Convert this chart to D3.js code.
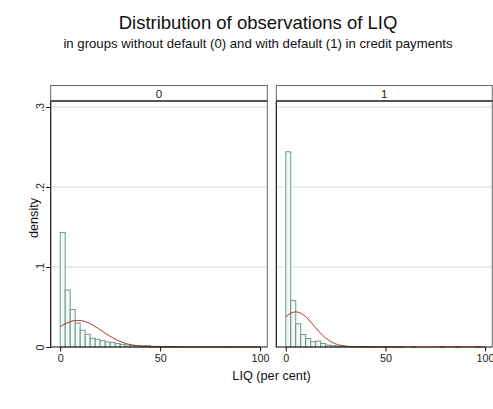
<!DOCTYPE html>
<html>
<head>
<meta charset="utf-8">
<script src="https://cdn.jsdelivr.net/npm/d3@7"></script>
<style>
  html, body { margin: 0; padding: 0; background: #fff; }
  svg { display: block; font-family: "Liberation Sans", Arial, sans-serif; }
</style>
</head>
<body>
<svg id="chart" width="493" height="409"></svg>
<script>
// Histogram bins: 2.5-point wide bins of LIQ from 0 to 100
const binWidth = 2.5;
const binStarts = d3.range(0, 100, binWidth);

// Groups (facet labels)
const groups = ["0", "1"];

// Density per bin, group 0 (no default)
const density0 = [
  0.1433, 0.0713, 0.047, 0.030, 0.021, 0.016, 0.011, 0.0096, 0.0079, 0.0063,
  0.0058, 0.0042, 0.0033, 0.0025, 0.002, 0.0017, 0.0015, 0.002, 0.0008, 0.0008,
  0.0006, 0.0006, 0.0005, 0.0005, 0.0003, 0.0002, 0.0002, 0.0002, 0.0002, 0.0002,
  0.0002, 0.0002, 0.0002, 0.0002, 0.0002, 0.0002, 0.0002, 0.0002, 0.0002, 0.0002
];

// Density per bin, group 1 (default)
const density1 = [
  0.244, 0.0583, 0.029, 0.0156, 0.0106, 0.0066, 0.0073, 0.0044, 0.0024, 0.0017,
  0.0012, 0.0012, 0.0008, 0.0006, 0.0006, 0.0005, 0.0005, 0.0004, 0.0004, 0.0004,
  0.0004, 0.0004, 0.0003, 0.0003, 0, 0.0003, 0, 0, 0, 0,
  0, 0.0003, 0, 0, 0.0003, 0, 0, 0, 0.0003, 0
];

// Normal-density overlay parameters (mean, sd) per group
const normalMean = [8.8, 5.0];
const normalSd = [12.0, 9.1];

// Axis ticks
const xTicks = [0, 50, 100];
const yTicks = [0, 0.1, 0.2, 0.3];
const yTickLabels = ["0", ".1", ".2", ".3"];

const densities = [density0, density1];

const svg = d3.select("#chart");
const font = "'Liberation Sans', Arial, sans-serif";

// Titles
svg.append("text").attr("x", 258).attr("y", 29).attr("text-anchor", "middle")
  .style("font-size", "18.5px").attr("fill", "#111")
  .text("Distribution of observations of LIQ");
svg.append("text").attr("x", 258).attr("y", 48).attr("text-anchor", "middle")
  .style("font-size", "13.2px").attr("fill", "#111")
  .text("in groups without default (0) and with default (1) in credit payments");

// Panel geometry
const panels = [
  { left: 50.7, right: 267.3 },
  { left: 276.3, right: 492.3 }
];
const stripTop = 85.5, plotTop = 101, plotBottom = 347;

const y = d3.scaleLinear().domain([0, 0.3]).range([plotBottom, 107]);

panels.forEach((p, gi) => {
  const x = d3.scaleLinear().domain([0, 100]).range([p.left + 9.5, p.right - 7.2]);
  const g = svg.append("g");

  // Gridlines
  g.selectAll("line.grid").data(yTicks.filter(t => t > 0)).join("line")
    .attr("x1", p.left).attr("x2", p.right)
    .attr("y1", d => y(d)).attr("y2", d => y(d))
    .attr("stroke", "#dadada").attr("stroke-width", 1);

  // Histogram bars
  const bins = binStarts.map((s, i) => ({ x0: s, x1: s + binWidth, v: densities[gi][i] }));
  g.selectAll("rect.bar").data(bins.filter(b => b.v > 0)).join("rect")
    .attr("x", d => x(d.x0)).attr("width", d => x(d.x1) - x(d.x0))
    .attr("y", d => y(d.v)).attr("height", d => y(0) - y(d.v))
    .attr("fill", "#f3f7f5").attr("stroke", "#54866f").attr("stroke-width", 0.9)
    .attr("stroke-opacity", 0.9);

  // Normal density curve
  const mu = normalMean[gi], sd = normalSd[gi];
  const pts = d3.range(0, 100.01, 0.5).map(v => [v, Math.exp(-0.5 * ((v - mu) / sd) ** 2) / (sd * Math.sqrt(2 * Math.PI))]);
  g.append("path").datum(pts)
    .attr("d", d3.line().x(d => x(d[0])).y(d => y(d[1])))
    .attr("fill", "none").attr("stroke", "#a8211f").attr("stroke-width", 1);

  // Right border of plot region
  g.append("line").attr("x1", p.right).attr("x2", p.right)
    .attr("y1", plotTop).attr("y2", plotBottom)
    .attr("stroke", "#666").attr("stroke-width", 1);

  // Left axis line
  g.append("line").attr("x1", p.left).attr("x2", p.left)
    .attr("y1", plotTop).attr("y2", plotBottom + 0.5)
    .attr("stroke", "#111").attr("stroke-width", 1.2);

  // X axis
  const xAxis = d3.axisBottom(x).tickValues(xTicks).tickSize(4.5).tickPadding(3).tickSizeOuter(0);
  const ax = g.append("g").attr("transform", `translate(0,${plotBottom})`).call(xAxis);
  ax.select(".domain").attr("d", `M${p.left},0H${p.right}`).attr("stroke", "#111").attr("stroke-width", 1.2);
  ax.selectAll(".tick line").attr("stroke", "#111");
  ax.selectAll(".tick text").style("font-family", font).style("font-size", "10.8px").attr("fill", "#222");

  // Strip with group label
  g.append("rect").attr("x", p.left).attr("y", stripTop)
    .attr("width", p.right - p.left).attr("height", plotTop - stripTop)
    .attr("fill", "#fff").attr("stroke", "#666").attr("stroke-width", 1);
  g.append("line").attr("x1", p.left).attr("x2", p.right)
    .attr("y1", plotTop).attr("y2", plotTop)
    .attr("stroke", "#333").attr("stroke-width", 1.3);
  g.append("text").attr("x", (p.left + p.right) / 2).attr("y", 97.5)
    .attr("text-anchor", "middle").style("font-size", "11.5px").attr("fill", "#222")
    .text(groups[gi]);

  // Y axis (left panel only)
  if (gi === 0) {
    const yAxis = d3.axisLeft(y).tickValues(yTicks).tickSize(4.5).tickFormat((d, i) => yTickLabels[i]).tickSizeOuter(0);
    const ay = g.append("g").attr("transform", `translate(${p.left},0)`).call(yAxis);
    ay.select(".domain").remove();
    ay.selectAll(".tick line").attr("stroke", "#111");
    ay.selectAll(".tick text")
      .style("font-family", font).style("font-size", "10.8px").attr("fill", "#222")
      .attr("text-anchor", "middle")
      .attr("x", 0).attr("dy", 0)
      .attr("transform", "translate(-7.2,0) rotate(-90)");
  }
});

// Axis titles
svg.append("text").attr("x", 271.5).attr("y", 379.5).attr("text-anchor", "middle")
  .style("font-size", "12.7px").attr("fill", "#111").text("LIQ (per cent)");
svg.append("text").attr("transform", "translate(38,218) rotate(-90)").attr("text-anchor", "middle")
  .style("font-size", "12.7px").attr("fill", "#111").text("density");
</script>
</body>
</html>
